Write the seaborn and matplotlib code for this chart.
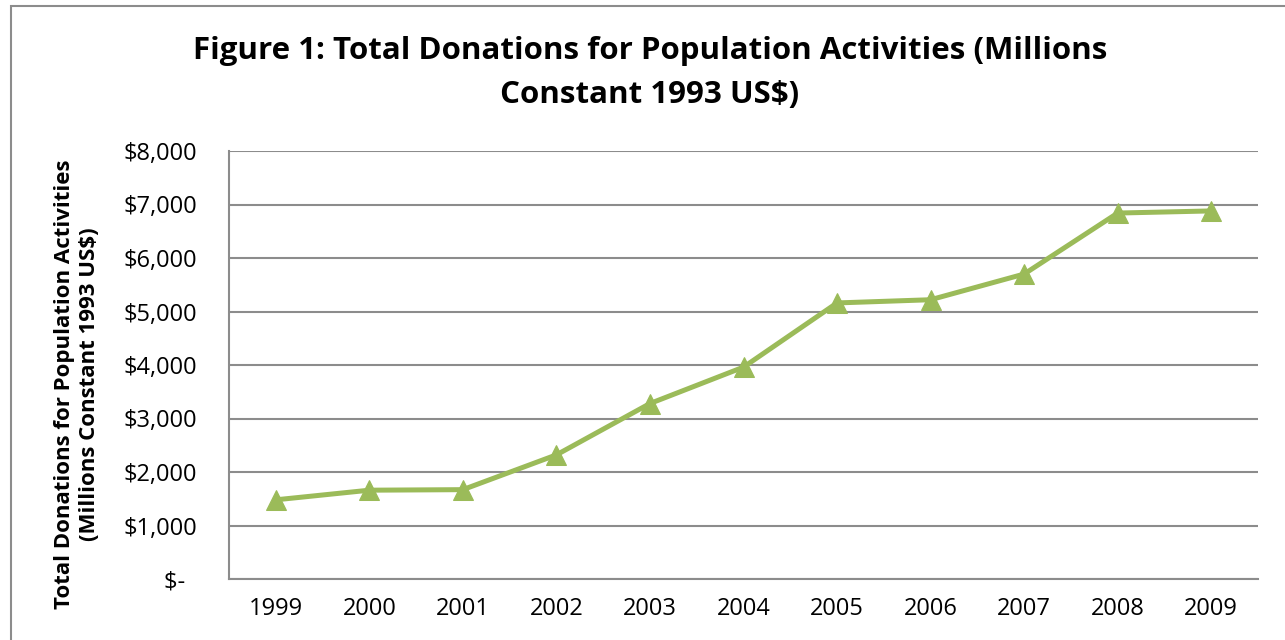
import matplotlib
matplotlib.use("Agg")
import matplotlib.pyplot as plt
from matplotlib.patches import Rectangle
import seaborn as sns
import pandas as pd

# Total donations for population activities, millions of constant 1993 US$
years = ["1999", "2000", "2001", "2002", "2003", "2004",
         "2005", "2006", "2007", "2008", "2009"]
donations = [1480, 1660, 1670, 2320, 3280, 3960, 5160, 5220, 5700, 6840, 6880]
y_ticks = [0, 1000, 2000, 3000, 4000, 5000, 6000, 7000, 8000]
y_tick_labels = ["$-  ", "$1,000", "$2,000", "$3,000", "$4,000",
                 "$5,000", "$6,000", "$7,000", "$8,000"]

df = pd.DataFrame({"pos": range(len(years)), "year": years, "value": donations})

sns.set_theme(style="white")
plt.rcParams["font.family"] = ["Open Sans", "DejaVu Sans"]
plt.rcParams["text.color"] = "black"

grey = "#8c8c8c"
green = "#9BBB59"

fig = plt.figure(figsize=(12.85, 6.4), dpi=100)
ax = fig.add_axes([229 / 1285, 1 - 579 / 640, 1029 / 1285, 428 / 640])

sns.lineplot(data=df, x="pos", y="value", ax=ax, color=green, linewidth=3.6,
             marker="^", markersize=15, markeredgecolor=green,
             markerfacecolor=green, zorder=3)

ax.set_xlim(-0.5, len(years) - 0.5)
ax.set_ylim(0, 8000)
ax.set_xticks(df["pos"])
ax.set_xticklabels(years)
ax.set_yticks(y_ticks)
ax.set_yticklabels(y_tick_labels)
ax.set_xlabel("")
ax.set_ylabel("")

ax.yaxis.grid(True, color=grey, linewidth=1.5)
ax.xaxis.grid(False)
ax.set_axisbelow(True)
for side in ("top", "right"):
    ax.spines[side].set_visible(False)
for side in ("left", "bottom"):
    ax.spines[side].set_color(grey)
    ax.spines[side].set_linewidth(1.5)

ax.tick_params(axis="y", length=0, pad=23, labelsize=17, labelcolor="black")
ax.tick_params(axis="x", length=0, pad=13, labelsize=17, labelcolor="black")

fig.text(650 / 1285, 1 - 73 / 640,
         "Figure 1: Total Donations for Population Activities (Millions\nConstant 1993 US$)",
         ha="center", va="center", fontsize=22.5, fontweight="bold",
         linespacing=1.65, color="black")

fig.text(77 / 1285, 1 - 384 / 640,
         "Total Donations for Population Activities\n(Millions Constant 1993 US$)",
         ha="center", va="center", rotation=90, fontsize=16,
         fontweight="bold", linespacing=1.3, color="black")

# Outer chart frame
fig.patches.append(Rectangle((11 / 1285, -0.05), 1.1, 1.05 - 6 / 640,
                             transform=fig.transFigure, fill=False,
                             edgecolor=grey, linewidth=1.5))

fig.savefig("out.png", dpi=100)
